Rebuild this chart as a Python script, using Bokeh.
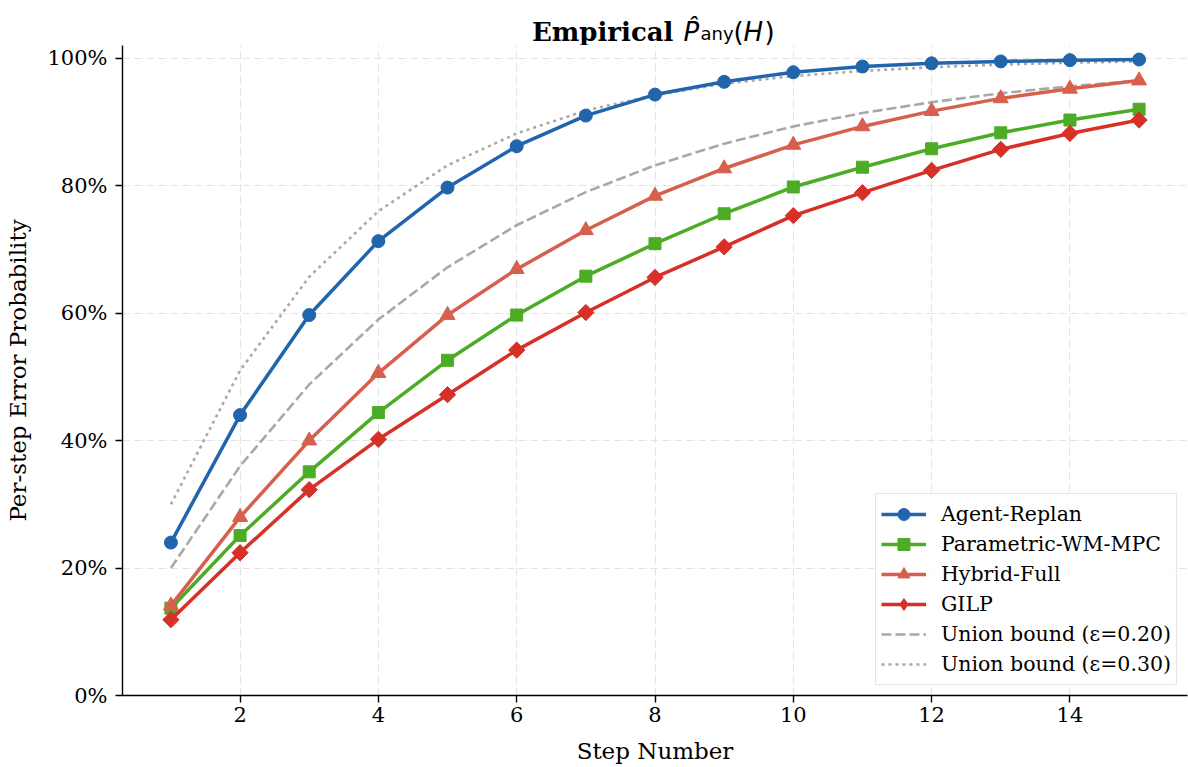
import math
from bokeh.plotting import figure
from bokeh.layouts import column
from bokeh.models import (Range1d, FixedTicker, NumeralTickFormatter, Legend,
                          LegendItem, Label)
from bokeh.embed import file_html
from bokeh.resources import INLINE

# ---------------- data (percent) ----------------
steps = list(range(1, 16))
agent_replan = [24.0, 44.0, 59.7, 71.3, 79.7, 86.2, 91.0, 94.3, 96.3, 97.8, 98.7, 99.2, 99.5, 99.7, 99.8]
parametric_wm_mpc = [13.7, 25.1, 35.1, 44.4, 52.6, 59.7, 65.8, 70.9, 75.6, 79.8, 82.9, 85.8, 88.3, 90.3, 92.0]
hybrid_full = [14.1, 28.0, 40.0, 50.6, 59.7, 66.9, 73.0, 78.4, 82.7, 86.4, 89.3, 91.7, 93.7, 95.2, 96.5]
gilp = [11.9, 22.4, 32.3, 40.2, 47.2, 54.2, 60.1, 65.6, 70.4, 75.3, 78.9, 82.4, 85.7, 88.2, 90.3]
union_020 = [20.0, 36.0, 48.8, 59.0, 67.2, 73.8, 79.0, 83.2, 86.6, 89.3, 91.4, 93.1, 94.5, 95.6, 96.5]
union_030 = [30.0, 51.0, 65.7, 76.0, 83.2, 88.2, 91.8, 94.2, 96.0, 97.2, 98.0, 98.6, 99.0, 99.3, 99.5]

series_names = ["Agent-Replan", "Parametric-WM-MPC", "Hybrid-Full", "GILP"]
bound_names = ["Union bound (\u03b5=0.20)", "Union bound (\u03b5=0.30)"]
x_ticks = [2, 4, 6, 8, 10, 12, 14]
y_ticks = [0.0, 0.2, 0.4, 0.6, 0.8, 1.0]

# ---------------- layout ----------------
W = 1188
TH = 45            # title strip height
H = 767 - TH       # main figure height
BL, BR, BB = 122, 1, 72
X0, X1, Y0, Y1 = 0.3, 15.7, 0.0, 1.02
FL, FR = BL, W - BR
SERIF = "DejaVu Serif"
SANS = "DejaVu Sans"

x_range = Range1d(X0, X1)


def dx(px):
    return X0 + (px - FL) / (FR - FL) * (X1 - X0)


def ty(py):
    return TH - py


# ---------------- title strip ----------------
tf = figure(width=W, height=TH, output_backend="svg", toolbar_location=None,
            x_range=x_range, y_range=Range1d(0, TH),
            x_axis_type=None, y_axis_type=None,
            min_border_left=BL, min_border_right=BR, min_border_top=0, min_border_bottom=0)
tf.outline_line_color = None
tf.grid.visible = False
tf.background_fill_color = "white"
tf.border_fill_color = "white"

BASE = 31


def tlabel(px, py, text, font, size, style="normal", align="left"):
    tf.add_layout(Label(x=dx(px), y=ty(py), text=text, text_font=font,
                        text_font_size=size, text_font_style=style, text_align=align,
                        text_baseline="alphabetic", text_color="black"))


tlabel(673, BASE, "Empirical", SERIF, "26px", "bold", "right")
tlabel(683, BASE, "P\u0302", SANS, "26px", "italic")
tlabel(700, BASE + 2, "any", SANS, "18px")
tlabel(733, BASE, "(", SANS, "26px")
tlabel(743, BASE, "H", SANS, "26px", "italic")
tlabel(764, BASE, ")", SANS, "26px")

# ---------------- main plot ----------------
p = figure(width=W, height=H, output_backend="svg", toolbar_location=None,
           x_range=x_range, y_range=Range1d(Y0, Y1),
           min_border_left=BL, min_border_right=BR, min_border_top=0,
           min_border_bottom=BB)
p.outline_line_color = None
p.background_fill_color = "white"
p.border_fill_color = "white"

for ax in (p.xaxis[0], p.yaxis[0]):
    ax.axis_line_color = "black"
    ax.axis_line_width = 1.4
    ax.major_tick_line_color = "black"
    ax.major_tick_line_width = 1.4
    ax.major_tick_out = 7
    ax.major_tick_in = 0
    ax.minor_tick_line_color = None
    ax.major_label_text_font = SERIF
    ax.major_label_text_font_size = "21px"
    ax.major_label_text_color = "black"
    ax.axis_label_text_font = SERIF
    ax.axis_label_text_font_size = "23px"
    ax.axis_label_text_font_style = "normal"
    ax.axis_label_text_color = "black"

p.xaxis.major_label_standoff = 4
p.yaxis.major_label_standoff = 8
p.xaxis.ticker = FixedTicker(ticks=x_ticks)
p.yaxis.ticker = FixedTicker(ticks=y_ticks)
p.yaxis.formatter = NumeralTickFormatter(format="0%")
p.xaxis.axis_label = "Step Number"
p.yaxis.axis_label = "Per-step Error Probability"
p.xaxis.axis_label_standoff = 13
p.yaxis.axis_label_standoff = 13

p.grid.grid_line_color = "#e4e4e4"
p.grid.grid_line_dash = "8 4"
p.grid.grid_line_width = 1.2

GRAY = "#9e9e9e"
frac = lambda arr: [v / 100.0 for v in arr]

b1 = p.line(steps, frac(union_020), color=GRAY, line_width=2.6, line_dash="10 4", line_alpha=0.9)
b2 = p.line(steps, frac(union_030), color=GRAY, line_width=2.6, line_dash="3 4", line_alpha=0.9)

colors = ["#2166ac", "#4dac26", "#d6604d", "#d73027"]
markers = ["circle", "square", "triangle", "square"]
legend_markers = ["circle", "square", "triangle", "diamond"]
sizes = [13, 12, 15, 11.5]
angles = [0, 0, 0, math.pi / 4]
data = [agent_replan, parametric_wm_mpc, hybrid_full, gilp]

items = []
for name, vals, c, m, lm, s, a in zip(series_names, data, colors, markers,
                                      legend_markers, sizes, angles):
    lr = p.line(steps, frac(vals), color=c, line_width=3.5)
    key = None
    if lm != m:
        # diamond drawn under the rotated squares; it supplies the legend key
        key = p.scatter(steps, frac(vals), marker=lm, size=s, fill_color=c, line_color=c)
    sr = p.scatter(steps, frac(vals), marker=m, size=s, angle=a,
                   fill_color=c, line_color=c)
    items.append(LegendItem(label=name, renderers=[lr, key if key is not None else sr]))
items.append(LegendItem(label=bound_names[0], renderers=[b1]))
items.append(LegendItem(label=bound_names[1], renderers=[b2]))

legend = Legend(items=items, location="bottom_right",
                label_text_font=SERIF, label_text_font_size="20.5px",
                label_text_color="black",
                glyph_width=45, glyph_height=30, label_height=30,
                label_standoff=15, spacing=0, padding=5, margin=10,
                border_line_color="#cccccc", border_line_width=1.5,
                background_fill_color="white", background_fill_alpha=0.85)
p.add_layout(legend)

layout = column(tf, p, spacing=0)
open("out.html", "w").write(file_html(layout, INLINE))
